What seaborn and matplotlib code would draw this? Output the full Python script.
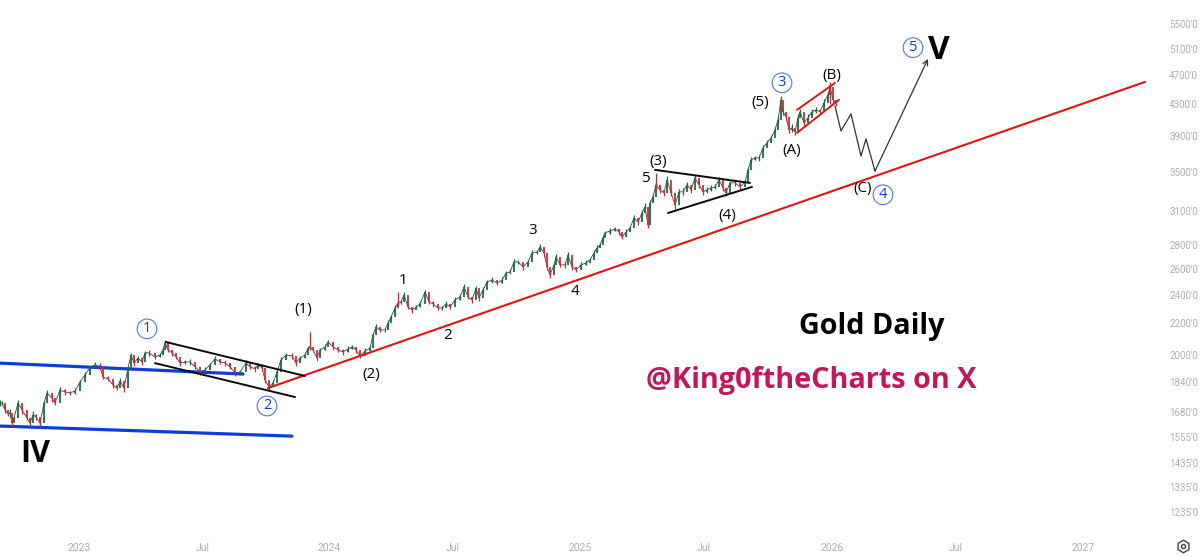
import numpy as np
import pandas as pd
import matplotlib
matplotlib.use("Agg")
import matplotlib.pyplot as plt
import seaborn as sb
from matplotlib.ticker import NullFormatter, NullLocator

# x axis is session number, like the chart's bar index (about 252 sessions a year)
sessions = [0,2,5,8,10,12,14,18,22,27,30,33,36,40,44,47,52,55,60,65,70,75,80,85,90,95,100,103,108,113,117,120,124,128,131,134,138,142,145,149,
	155,160,163,165,168,172,176,180,185,190,195,200,205,210,215,220,225,230,235,240,246,250,255,258,262,265,269,273,277,281,286,292,296,300,
	305,308,310,313,317,320,325,328,333,338,343,348,352,356,360,365,370,373,376,380,385,388,391,395,398,401,404,408,412,416,420,425,429,433,438,442,446,450,
	455,460,464,468,472,476,479,483,487,492,497,502,506,510,514,518,523,528,532,537,540,544,547,550,554,556,560,565,568,572,576,581,586,590,594,597,600,
	603,605,610,615,619,622,626,630,634,638,642,645,648,650,653,656,660,664,667,671,675,679,683,687,691,695,699,703,707,711,715,719,723,726,730,735,740,745,
	748,751,755,759,763,767,771,775,778,781,783,786,789,792,795,798,800,804,808,812,816,820,824,828,830,833,836]

closes = [1724,1724,1688,1668,1673,1622,1647,1724,1688,1647,1622,1663,1652,1622,1724,1778,1750,1724,1794,1783,1778,1789,1839,1879,1920,1938,1926,1867,1856,1822,1805,1845,1805,1920,1997,1949,1979,1955,2010,2010,
	1985,1997,2028,2072,2028,2010,1985,1949,1955,1955,1926,1896,1908,1938,1973,1955,1949,1926,1890,1896,1949,1926,1914,1938,1920,1850,1811,1833,1896,1967,1997,1991,1949,1979,
	1997,2040,2047,2028,1979,2028,2047,2078,2047,2028,2016,2034,2047,2028,1991,2022,2040,2123,2176,2156,2156,2202,2244,2306,2342,2349,2400,2313,2292,2313,2335,2422,2349,2335,2306,2306,2335,2313,
	2364,2386,2459,2386,2364,2452,2379,2437,2497,2512,2489,2512,2567,2575,2655,2655,2615,2655,2729,2737,2780,2729,2615,2551,2631,2696,2631,2631,2712,2615,2591,2631,2647,2671,2729,2771,2797,
	2857,2902,2919,2937,2910,2866,2910,2946,3037,3000,3084,3144,2973,3180,3240,3362,3310,3280,3413,3280,3162,3290,3290,3362,3310,3434,3362,3290,3310,3330,3340,3413,3330,3280,3382,3382,3340,3392,
	3519,3628,3650,3650,3765,3822,3880,3977,4101,4360,4203,4138,3977,4001,3953,4126,4203,4063,4126,4203,4228,4203,4322,4427,4540,4360,4322]

# rough half range of each bar around its close, same order as closes
spreads = [14,10,18,12,20,16,12,15,22,11,17,20,13,19,12,14,21,10,16,18,12,19,13,15,11,17,20,12,14,18,10,19,22,13,15,20,12,18,11,16,
	15,12,18,20,11,16,14,19,12,17,13,20,15,11,18,12,16,14,19,12,17,13,18,11,20,15,13,17,12,19,14,16,20,13,
	17,14,20,12,18,15,21,13,17,12,16,20,14,18,13,19,15,12,20,16,14,22,13,18,20,16,24,14,19,17,22,18,15,20,13,17,21,16,
	18,23,20,15,24,17,22,19,15,24,18,22,16,20,25,17,23,18,26,20,24,30,22,27,19,24,18,26,21,28,17,23,20,18,25,22,19,
	26,20,24,18,28,22,25,19,30,24,27,35,32,26,30,40,28,33,36,30,42,26,34,29,36,30,38,27,33,31,25,34,29,32,24,30,27,23,
	34,30,26,32,28,36,30,34,45,50,40,46,38,44,36,48,42,38,45,36,42,34,46,40,60,48,42]

# wicks that stick out well past the bars
wick_sessions = [12,40,269,310,398,648,656,781,830]
wick_lows = [1607,1607,1794,2030,2320,2950,3300,4200,4300]
wick_highs = [1640,1640,1830,2142,2422,3000,3487,4400,4590]

# drawn lines, sessions then prices
trend_sess = [268,1145]
trend_px = [1805,4605]
blue_up_sess = [0,243]
blue_up_px = [1948,1884]
blue_low_sess = [0,292]
blue_low_px = [1607,1558]
chan_up_sess = [166,305]
chan_up_px = [2078,1873]
chan_low_sess = [155,295]
chan_low_px = [1948,1756]
tri_up_sess = [655,750]
tri_up_px = [3519,3381]
tri_low_sess = [668,752]
tri_low_px = [3084,3340]
flag_up_sess = [797,835]
flag_up_px = [4228,4591]
flag_low_sess = [797,839]
flag_low_px = [3940,4360]
path_sess = [835,841,851,861,866,875]
path_px = [4279,3964,4176,3672,3868,3507]
arrow_end_sess = 928
arrow_end_px = 4941

wave_text = ["(1)","1","2","3","4","5","(3)","(4)","(5)","(A)","(B)","(C)","(2)"]
wave_sess = [303,403,448,533,575,645,658,727,760,792,832,863,371]
wave_px = [2306,2520,2130,2937,2437,3444,3628,3075,4345,3752,4719,3340,1890]

circle_text = ["1","2","3","4","5"]
circle_sess = [147,267,782,883,913]
circle_px = [2169,1713,4605,3269,5127]

price_ticks = [5500,5100,4700,4300,3900,3500,3100,2800,2600,2400,2200,2000,1840,1680,1555,1435,1335,1235]
date_ticks = [79,203,329,453,580,704,832,956,1083]
date_labels = ["2023","Jul","2024","Jul","2025","Jul","2026","Jul","2027"]

sb.set_theme(style="white")
plt.rcParams['font.family'] = ['Open Sans', 'DejaVu Sans']

W, H = 1200, 557
fig = plt.figure(figsize=(12, 5.57), dpi=100, facecolor="white")
ax = fig.add_axes([0, (H-532)/H, 1165/W, 532/H])
ax.set_yscale("log")

grey = "#aeaeb6"
black_line = "#0c0c0c"
red_line = "#e01414"
blue_line = "#0a3fd8"
candle_up = "#1f6b45"
candle_dn = "#c4303a"

candles = pd.DataFrame({"session": sessions, "close": closes, "spread": spreads})
candles["open"] = candles["close"].shift(1).fillna(candles["close"])
candles["up"] = candles["close"] >= candles["open"]
bar_colors = np.where(candles["up"], candle_up, candle_dn)

sb.lineplot(data=candles, x="session", y="close", ax=ax, color="#4a4442", lw=0.6, estimator=None, sort=False)
ax.vlines(candles["session"], candles["close"]-candles["spread"], candles["close"]+candles["spread"],
	colors=bar_colors, lw=0.9, zorder=3)
ax.vlines(candles["session"], candles["open"], candles["close"], colors=bar_colors, lw=1.3, zorder=3)
ax.vlines(wick_sessions, wick_lows, wick_highs, colors=candle_dn, lw=0.9, zorder=3)

def drawLine(xs, ys, color, lw):
	sb.lineplot(x=xs, y=ys, ax=ax, color=color, lw=lw, estimator=None, sort=False, zorder=2 if color == blue_line else 4)

drawLine(blue_up_sess, blue_up_px, blue_line, 2.3)
drawLine(blue_low_sess, blue_low_px, blue_line, 2.3)
drawLine(trend_sess, trend_px, red_line, 1.5)
drawLine(chan_up_sess, chan_up_px, black_line, 1.4)
drawLine(chan_low_sess, chan_low_px, black_line, 1.4)
drawLine(tri_up_sess, tri_up_px, black_line, 1.4)
drawLine(tri_low_sess, tri_low_px, black_line, 1.4)
drawLine(flag_up_sess, flag_up_px, red_line, 1.4)
drawLine(flag_low_sess, flag_low_px, red_line, 1.4)
drawLine(path_sess, path_px, "#333333", 0.9)
ax.annotate("", xy=(arrow_end_sess, arrow_end_px), xytext=(path_sess[-1], path_px[-1]),
	arrowprops=dict(arrowstyle="->", color="#333333", lw=0.9, shrinkA=0, shrinkB=0, mutation_scale=9))

for t, x, y in zip(wave_text, wave_sess, wave_px):
	ax.annotate(t, (x, y), xytext=(0, -1.2), textcoords="offset points", ha="center", va="center",
		fontsize=11, color="#050505", zorder=6)
for t, x, y in zip(circle_text, circle_sess, circle_px):
	ax.annotate(t, (x, y), xytext=(0, -0.6), textcoords="offset points", ha="center", va="center",
		fontsize=10.5, color="#1040c8", zorder=6,
		bbox=dict(boxstyle="circle,pad=0.16", fc="white", ec="#5f86e6", lw=0.9))

ax.text(35, 1475, "IV", ha="center", va="center", fontsize=22, fontweight="bold", color="black")
ax.text(939, 5075, "V", ha="center", va="center", fontsize=24, fontweight="bold", color="black")
ax.text(872, 2176, "Gold Daily", ha="center", va="center", fontsize=20.7, fontweight="bold", color="black")
ax.text(811, 1845, "@King0ftheCharts on X", ha="center", va="center", fontsize=20.8, fontweight="bold", color="#c2185b")

ax.set_xlim(0, 1165)
ax.set_ylim(1162, 5917)
ax.set_xlabel("")
ax.set_ylabel("")
ax.yaxis.tick_right()
ax.yaxis.set_minor_locator(NullLocator())
ax.yaxis.set_minor_formatter(NullFormatter())
ax.set_yticks(price_ticks)
ax.set_yticklabels([f"{p}'0" for p in price_ticks], family="Roboto")
ax.set_xticks(date_ticks)
ax.set_xticklabels(date_labels, family="Roboto")
ax.tick_params(axis="y", length=0, pad=3, labelsize=7, labelcolor=grey)
ax.tick_params(axis="x", length=0, pad=8, labelsize=7.5, labelcolor=grey)
for s in ax.spines.values():
	s.set_visible(False)
ax.grid(False)

# settings gear at the bottom right corner
gx, gy = 1183/W, 1-546/H
fig.add_artist(plt.Line2D([gx], [gy], marker="h", ms=9, mfc="none", mec="#444444", mew=1, transform=fig.transFigure))
fig.add_artist(plt.Line2D([gx], [gy], marker="o", ms=3, mfc="none", mec="#444444", mew=1, transform=fig.transFigure))

fig.savefig("out.png", dpi=100, facecolor="white")
